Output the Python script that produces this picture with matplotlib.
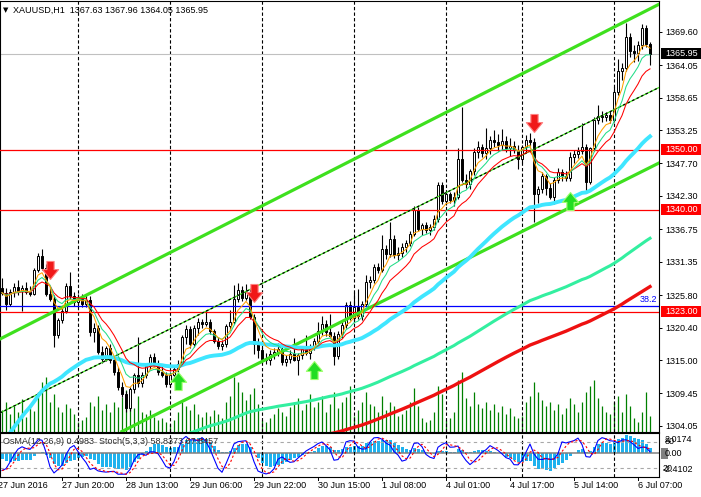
import numpy as np
import pandas as pd
import matplotlib
matplotlib.use("Agg")
import matplotlib.pyplot as plt
from matplotlib.path import Path
from matplotlib.patches import Rectangle
from matplotlib.transforms import IdentityTransform
from matplotlib.lines import Line2D

plt.rcParams['font.family'] = ['Liberation Sans', 'DejaVu Sans']

# ---------------- data (XAUUSD H1, 27 Jun - 6 Jul 2016) ----------------
opens = [1327.0, 1326.2, 1324.4, 1326.3, 1327.2, 1326.5, 1327.0, 1326.4, 1326.0, 1330.0,
         1332.3, 1330.3, 1326.0, 1325.2, 1319.2, 1321.7, 1323.1, 1327.4, 1325.6, 1324.6,
         1325.4, 1324.4, 1325.0, 1319.6, 1320.4, 1316.4, 1315.2, 1317.0, 1315.0, 1313.0,
         1310.5, 1309.3, 1307.0, 1310.2, 1312.5, 1311.2, 1312.6, 1314.0, 1315.5, 1314.4,
         1313.1, 1312.6, 1311.0, 1312.6, 1313.5, 1314.3, 1318.8, 1320.2, 1317.6, 1320.4,
         1321.3, 1321.0, 1321.4, 1319.8, 1318.2, 1317.3, 1317.6, 1320.6, 1321.3, 1325.2,
         1326.6, 1325.4, 1326.3, 1322.2, 1317.6, 1316.6, 1315.2, 1315.0, 1316.0, 1316.4,
         1316.8, 1314.7, 1315.2, 1316.0, 1315.0, 1315.8, 1316.8, 1316.2, 1317.2, 1318.2,
         1319.8, 1321.0, 1319.6, 1319.0, 1315.6, 1319.4, 1320.8, 1324.2, 1322.0, 1323.8,
         1322.4, 1324.4, 1328.0, 1328.4, 1330.4, 1330.0, 1333.4, 1332.6, 1335.2, 1332.4,
         1332.8, 1333.8, 1334.4, 1336.0, 1339.9, 1336.8, 1337.4, 1336.6, 1337.2, 1338.4,
         1344.1, 1341.4, 1342.6, 1341.6, 1342.2, 1348.5, 1345.0, 1344.2, 1346.4, 1349.6,
         1350.4, 1349.4, 1350.2, 1351.6, 1351.2, 1350.8, 1351.4, 1350.2, 1350.6, 1350.0,
         1348.4, 1350.4, 1351.6, 1351.2, 1342.6, 1343.4, 1345.6, 1343.6, 1342.2, 1345.0,
         1346.2, 1345.6, 1345.2, 1348.8, 1349.2, 1349.8, 1350.4, 1344.6, 1350.2, 1355.0,
         1355.6, 1355.4, 1355.8, 1354.9, 1359.6, 1363.0, 1363.6, 1368.7, 1366.4, 1366.0,
         1367.4, 1370.2, 1367.63]
highs = [1328.6, 1327.0, 1326.8, 1327.8, 1328.4, 1327.5, 1328.0, 1327.4, 1330.3, 1332.8,
         1333.4, 1331.0, 1327.4, 1325.8, 1322.0, 1323.6, 1327.8, 1329.7, 1326.4, 1326.0,
         1326.0, 1325.8, 1325.6, 1321.2, 1320.8, 1317.4, 1317.4, 1317.6, 1315.6, 1313.8,
         1311.4, 1309.8, 1310.6, 1312.9, 1318.9, 1313.0, 1314.3, 1316.0, 1316.2, 1315.0,
         1314.2, 1313.0, 1313.0, 1314.0, 1315.0, 1319.2, 1320.8, 1320.6, 1320.8, 1322.0,
         1321.9, 1323.3, 1321.8, 1320.2, 1318.8, 1318.4, 1321.0, 1323.4, 1327.5, 1327.8,
         1327.4, 1327.6, 1326.8, 1322.6, 1318.6, 1317.2, 1316.2, 1316.6, 1317.0, 1317.8,
         1317.2, 1315.8, 1316.6, 1318.6, 1316.2, 1317.2, 1319.2, 1317.6, 1318.6, 1321.4,
         1322.4, 1321.6, 1322.6, 1319.6, 1319.8, 1321.4, 1324.6, 1324.8, 1326.4, 1326.8,
         1324.8, 1329.2, 1329.0, 1331.0, 1331.2, 1335.8, 1334.2, 1338.0, 1335.8, 1333.8,
         1334.4, 1335.0, 1336.4, 1340.6, 1340.4, 1337.8, 1338.0, 1337.6, 1339.2, 1344.6,
         1344.6, 1343.2, 1343.0, 1343.0, 1350.2, 1357.1, 1346.0, 1346.8, 1350.2, 1351.4,
         1351.0, 1353.6, 1352.2, 1353.2, 1352.6, 1353.4, 1352.2, 1352.0, 1351.4, 1350.8,
         1350.8, 1352.4, 1352.8, 1352.0, 1344.0, 1346.2, 1346.0, 1344.4, 1345.4, 1347.0,
         1346.8, 1346.4, 1349.6, 1350.0, 1350.4, 1354.4, 1351.0, 1350.4, 1355.4, 1357.4,
         1356.4, 1356.2, 1356.4, 1360.4, 1365.0, 1364.4, 1371.0, 1369.4, 1367.4, 1368.0,
         1370.9, 1370.7, 1367.96]
lows = [1325.8, 1323.3, 1324.0, 1325.5, 1325.9, 1323.2, 1326.0, 1325.6, 1325.8, 1329.6,
        1330.0, 1325.6, 1324.8, 1317.2, 1318.6, 1321.2, 1322.8, 1325.2, 1324.0, 1323.8,
        1323.9, 1323.8, 1319.0, 1318.0, 1316.0, 1314.6, 1314.8, 1314.6, 1312.6, 1310.0,
        1308.8, 1306.4, 1306.6, 1309.6, 1310.5, 1310.5, 1312.0, 1313.5, 1314.0, 1312.6,
        1312.2, 1310.6, 1310.5, 1311.8, 1312.5, 1314.0, 1317.6, 1317.0, 1317.2, 1319.2,
        1320.4, 1320.6, 1319.4, 1317.8, 1316.8, 1316.6, 1317.2, 1320.0, 1321.0, 1324.6,
        1324.8, 1325.0, 1321.8, 1316.0, 1315.4, 1314.6, 1314.4, 1314.2, 1315.2, 1315.6,
        1314.2, 1314.0, 1314.6, 1314.8, 1312.6, 1315.2, 1315.8, 1315.2, 1316.6, 1317.8,
        1319.2, 1319.0, 1318.8, 1314.2, 1315.2, 1318.6, 1320.4, 1321.6, 1321.4, 1321.8,
        1321.6, 1324.0, 1327.0, 1327.8, 1329.4, 1329.6, 1331.8, 1332.2, 1332.0, 1331.6,
        1332.2, 1333.0, 1334.0, 1335.6, 1336.4, 1335.8, 1336.2, 1335.8, 1336.6, 1338.0,
        1341.0, 1340.8, 1341.2, 1340.6, 1341.8, 1344.6, 1343.6, 1343.4, 1345.8, 1348.6,
        1348.8, 1348.4, 1349.2, 1350.4, 1349.8, 1350.0, 1349.6, 1349.0, 1349.4, 1346.8,
        1347.8, 1349.6, 1350.6, 1338.0, 1341.2, 1342.8, 1342.4, 1341.8, 1341.0, 1344.4,
        1344.8, 1344.8, 1344.8, 1347.8, 1348.6, 1349.2, 1342.8, 1344.2, 1349.8, 1354.2,
        1354.6, 1354.8, 1354.4, 1354.6, 1359.0, 1361.6, 1363.0, 1365.4, 1364.6, 1364.8,
        1366.8, 1367.0, 1364.05]
closes = [1326.2, 1324.4, 1326.3, 1327.2, 1326.5, 1327.0, 1326.4, 1326.0, 1330.0, 1332.3,
          1330.3, 1326.0, 1325.2, 1319.2, 1321.7, 1323.1, 1327.4, 1325.6, 1324.6, 1325.4,
          1324.4, 1325.0, 1319.6, 1320.4, 1316.4, 1315.2, 1317.0, 1315.0, 1313.0, 1310.5,
          1309.3, 1307.0, 1310.2, 1312.5, 1311.2, 1312.6, 1314.0, 1315.5, 1314.4, 1313.1,
          1312.6, 1311.0, 1312.6, 1313.5, 1314.3, 1318.8, 1320.2, 1317.6, 1320.4, 1321.3,
          1321.0, 1321.4, 1319.8, 1318.2, 1317.3, 1317.6, 1320.6, 1321.3, 1325.2, 1326.6,
          1325.4, 1326.3, 1322.2, 1317.6, 1316.6, 1315.2, 1315.0, 1316.0, 1316.4, 1316.8,
          1314.7, 1315.2, 1316.0, 1315.0, 1315.8, 1316.8, 1316.2, 1317.2, 1318.2, 1319.8,
          1321.0, 1319.6, 1319.0, 1315.6, 1319.4, 1320.8, 1324.2, 1322.0, 1323.8, 1322.4,
          1324.4, 1328.0, 1328.4, 1330.4, 1330.0, 1333.4, 1332.6, 1335.2, 1332.4, 1332.8,
          1333.8, 1334.4, 1336.0, 1339.9, 1336.8, 1337.4, 1336.6, 1337.2, 1338.4, 1344.1,
          1341.4, 1342.6, 1341.6, 1342.2, 1348.5, 1345.0, 1344.2, 1346.4, 1349.6, 1350.4,
          1349.4, 1350.2, 1351.6, 1351.2, 1350.8, 1351.4, 1350.2, 1350.6, 1350.0, 1348.4,
          1350.4, 1351.6, 1351.2, 1342.6, 1343.4, 1345.6, 1343.6, 1342.2, 1345.0, 1346.2,
          1345.6, 1345.2, 1348.8, 1349.2, 1349.8, 1350.4, 1344.6, 1350.2, 1355.0, 1355.6,
          1355.4, 1355.8, 1354.9, 1359.6, 1363.0, 1363.6, 1368.7, 1366.4, 1366.0, 1367.4,
          1370.2, 1367.63, 1365.95]
volumes = [220, 300, 180, 260, 200, 330, 150, 240, 210, 400,
           500, 550, 300, 380, 250, 200, 280, 240, 180, 100,
           120, 150, 300, 260, 360, 220, 280, 200, 300, 250,
           350, 420, 300, 240, 360, 200, 180, 220, 150, 120,
           140, 100, 80, 120, 200, 300, 260, 220, 280, 180,
           150, 200, 160, 220, 180, 140, 300, 360, 550, 500,
           400, 320, 380, 440, 280, 120, 100, 140, 180, 240,
           200, 160, 250, 300, 340, 220, 280, 380, 250, 300,
           360, 200, 280, 400, 240, 300, 350, 460, 160, 220,
           300, 400, 280, 260, 200, 360, 220, 300, 260, 160,
           180, 220, 300, 440, 260, 140, 100, 120, 200, 460,
           380, 120, 140, 200, 520, 600, 340, 260, 400, 280,
           240, 300, 220, 280, 200, 260, 180, 240, 160, 140,
           160, 300, 360, 500, 400, 320, 260, 300, 220, 280,
           180, 240, 340, 280, 200, 300, 400, 460, 520, 340,
           260, 200, 180, 300, 360, 200, 380, 260, 140, 100,
           200, 400, 160]

time_label_bars = [-1, 15, 31, 47, 63, 79, 95, 111, 127, 143, 159]
time_labels = ['27 Jun 2016', '27 Jun 20:00', '28 Jun 13:00', '29 Jun 06:00', '29 Jun 22:00',
               '30 Jun 15:00', '1 Jul 08:00', '4 Jul 01:00', '4 Jul 17:00', '5 Jul 14:00',
               '6 Jul 07:00']
day_separator_bars = [19, 42, 65, 88, 111, 130, 153]
price_ticks = [1369.60, 1364.05, 1358.65, 1353.25, 1347.70, 1342.30, 1336.75,
               1331.35, 1325.80, 1320.40, 1315.00, 1309.45, 1304.05]
level_lines = [1350.00, 1340.00, 1323.00]
fib_382 = 1324.0
last_price = 1365.95
sell_arrow_bars = [12, 63, 133]
sell_arrow_prices = [1330.0, 1326.1, 1354.5]
buy_arrow_bars = [44, 78, 142]
buy_arrow_prices = [1311.5, 1313.4, 1341.5]
channel_upper = [(0, 1318.68), (160, 1372.73)]
channel_lower = [(60, 1313.11), (160, 1346.36)]
channel_mid = [(0, 1306.38), (160, 1358.93)]
ema_long_seeds = {50: 1300.0, 144: 1288.0, 200: 1282.0}
osma_seeds = {'ema12': 1325.5, 'ema26': 1322.0, 'macd_prior': 4.0}
osma_range = (-2.4102, 2.0174)
header = 'XAUUSD,H1  1367.63 1367.96 1364.05 1365.95'
sub_header = 'OsMA(12,26,9) 0.4983  Stoch(5,3,3) 58.8373 67.8457'

# ---------------- helpers ----------------
def ema(vals, period, seed):
    a = 2.0 / (period + 1)
    out = np.empty(len(vals))
    prev = seed
    for i, v in enumerate(vals):
        prev = prev + a * (v - prev)
        out[i] = prev
    return out

o = np.array(opens); hi = np.array(highs); lo = np.array(lows); c = np.array(closes)
n = len(c)
x = np.arange(n)

W, H = 701, 497
fig = plt.figure(figsize=(W / 100, H / 100), dpi=100)
fig.patch.set_facecolor('white')

def rect(x0, y0, x1, y1):
    return [x0 / W, 1 - y1 / H, (x1 - x0) / W, (y1 - y0) / H]

XLIM = (-0.5, 164.25)
PLIM = (1303.13, 1374.79)
main_rect = rect(0, 0.5, 659, 431.5)

# volumes (behind)
ax_vol = fig.add_axes(main_rect)
ax_vol.vlines(x, 0, volumes, color='#008000', lw=0.9)
ax_vol.set_xlim(XLIM)
ax_vol.set_ylim(0, 4310)
ax_vol.axis('off')

ax = fig.add_axes(main_rect)
ax.patch.set_alpha(0)
ax.set_xlim(XLIM)
ax.set_ylim(PLIM)

for b in day_separator_bars:
    ax.axvline(b, color='black', lw=0.8, ls=(0, (3, 2)), zorder=1)
ax.axhline(last_price, color='#C0C0C0', lw=0.8, zorder=1)

# candles
ax.vlines(x, lo, hi, color='black', lw=0.8, zorder=3)
up = c >= o
ax.bar(x, np.abs(c - o), bottom=np.minimum(o, c), width=0.55,
       color=np.where(up, 'white', 'black'), edgecolor='black', linewidth=0.7, zorder=4)

# horizontal levels
for p in level_lines:
    ax.axhline(p, color='#FF0000', lw=0.9, zorder=5)
ax.axhline(fib_382, color='#0000FF', lw=0.9, zorder=5)

# channel
for pts in (channel_upper, channel_lower):
    ax.axline(pts[0], pts[1], color='#3EE01E', lw=2.3, zorder=5)
ax.axline(channel_mid[0], channel_mid[1], color='#3EE01E', lw=0.9, zorder=5)
ax.axline(channel_mid[0], channel_mid[1], color='black', lw=0.9, ls=(0, (2, 2)), zorder=5)

# moving averages
ax.plot(x, ema(c, 200, ema_long_seeds[200]), color='#EE1111', lw=2.4, zorder=6)
ax.plot(x, ema(c, 144, ema_long_seeds[144]), color='#33EFA0', lw=2.2, zorder=6)
ax.plot(x, ema(c, 50, ema_long_seeds[50]), color='#3FE6FF', lw=2.8, zorder=6)
ax.plot(x, ema(c, 13, c[0]), color='#FF0000', lw=0.75, zorder=7)
ax.plot(x, ema(c, 8, c[0]), color='#22DD88', lw=0.75, zorder=7)
ax.plot(x, ema(c, 5, c[0]), color='#FFA000', lw=0.75, zorder=7)

# arrows
down = Path([(-0.2, 0.5), (0.2, 0.5), (0.2, 0.05), (0.45, 0.05), (0, -0.5),
             (-0.45, 0.05), (-0.2, 0.05), (-0.2, 0.5)], closed=True)
upa = Path([(-0.2, -0.5), (0.2, -0.5), (0.2, -0.05), (0.45, -0.05), (0, 0.5),
            (-0.45, -0.05), (-0.2, -0.05), (-0.2, -0.5)], closed=True)
ax.plot(sell_arrow_bars, sell_arrow_prices, ls='none', marker=down, ms=13,
        mfc='#F01818', mec='#FF8080', mew=0.8, zorder=8)
ax.plot(buy_arrow_bars, buy_arrow_prices, ls='none', marker=upa, ms=13,
        mfc='#22DD22', mec='#A0FF70', mew=0.8, zorder=8)

ax.text(XLIM[1] - 0.5, fib_382 + 0.25, '38.2', color='#0000FF', fontsize=6.5,
        ha='right', va='bottom', zorder=8)

# axis styling
ax.set_xticks([])
ax.yaxis.tick_right()
ax.set_yticks(price_ticks)
ax.set_yticklabels([f'{p:.2f}' for p in price_ticks])
ax.tick_params(axis='y', direction='out', length=2.2, width=0.7, pad=2.2, labelsize=6.5)
for s in ax.spines.values():
    s.set_color('black'); s.set_linewidth(0.8)

# ---------------- sub window ----------------
sub_rect = rect(0, 433.3, 659, 476.7)
ema12 = ema(c, 12, osma_seeds['ema12']); ema26 = ema(c, 26, osma_seeds['ema26'])
macd = ema12 - ema26
macd_ext = np.concatenate([np.full(8, osma_seeds['macd_prior']), macd])
signal = pd.Series(macd_ext).rolling(9).mean().values[8:]
osma = macd - signal

hh = pd.Series(hi).rolling(5, min_periods=1).max()
ll = pd.Series(lo).rolling(5, min_periods=1).min()
num = (pd.Series(c) - ll).rolling(3, min_periods=1).sum()
den = (hh - ll).rolling(3, min_periods=1).sum()
stoch_k = (100 * num / den).values
stoch_d = pd.Series(stoch_k).rolling(3, min_periods=1).mean().values

ax_os = fig.add_axes(sub_rect)
ax_os.bar(x, osma, width=0.75, color='#1FB2EE', zorder=2)
ax_os.axhline(0, color='#808080', lw=1.1, zorder=3)
ax_os.set_xlim(XLIM); ax_os.set_ylim(osma_range)
ax_os.axis('off')

ax_st = fig.add_axes(sub_rect)
ax_st.patch.set_alpha(0)
for b in day_separator_bars:
    ax_st.axvline(b, color='black', lw=0.8, ls=(0, (3, 2)), zorder=1)
ax_st.axhline(80, color='#A8A8A8', lw=0.8, ls=(0, (3, 3)))
ax_st.axhline(20, color='#A8A8A8', lw=0.8, ls=(0, (3, 3)))
ax_st.plot(x, stoch_k, color='#0000FF', lw=0.8)
ax_st.plot(x, stoch_d, color='#FF0000', lw=0.8, ls=(0, (2, 2)))
ax_st.set_xlim(XLIM); ax_st.set_ylim(0, 100)
ax_st.set_xticks([]); ax_st.set_yticks([])
for s in ax_st.spines.values():
    s.set_color('black'); s.set_linewidth(0.8)

# ---------------- texts / boxes ----------------
def ydisp(axis, val):
    return axis.transData.transform((0, val))[1]

def price_box(p, fc, tc):
    yd = ydisp(ax, p)
    fig.add_artist(Rectangle((661, yd - 5.5), 40, 11, transform=IdentityTransform(),
                             fc=fc, ec='none', zorder=10))
    fig.text(665 / W, yd / H, f'{p:.2f}', color=tc, fontsize=6.5, va='center',
             ha='left', zorder=11)

price_box(last_price, 'black', 'white')
for p in level_lines:
    price_box(p, '#FF0000', 'white')

# sub window scale labels
y0 = ydisp(ax_os, 0)
fig.add_artist(Rectangle((661, y0 - 5.5), 7, 11, transform=IdentityTransform(),
                         fc='#808080', ec='none', zorder=10))
fig.text(665 / W, y0 / H, '0.00', fontsize=6.5, va='center', ha='left', zorder=11)
fig.text(665 / W, 1 - 439.5 / H, f'{osma_range[1]:.4f}', fontsize=6.5, va='center', zorder=11)
fig.text(663 / W, 1 - 470 / H, f'{osma_range[0]:.4f}', fontsize=6.5, va='center', zorder=11)
fig.text(665 / W, ydisp(ax_st, 80) / H, '80', fontsize=6.5, va='center', zorder=11)
fig.text(663 / W, ydisp(ax_st, 20) / H, '20', fontsize=6.5, va='center', zorder=11)

# time axis
for b, lab in zip(time_label_bars, time_labels):
    xd = ax_st.transData.transform((b, 0))[0]
    fig.add_artist(Line2D([xd, xd], [H - 476.7, H - 480], transform=IdentityTransform(),
                          color='black', lw=0.7))
    fig.text(xd / W, 1 - 486 / H, lab, fontsize=6.5, va='center', ha='left')

fig.text(3 / W, 1 - 10 / H, '▼', fontsize=5, family='DejaVu Sans', va='center')
fig.text(13 / W, 1 - 10 / H, header, fontsize=6.5, va='center')
fig.text(3 / W, 1 - 441 / H, sub_header, fontsize=6.5, va='center', color='#303030', zorder=12)

fig.savefig('out.png', dpi=100)
